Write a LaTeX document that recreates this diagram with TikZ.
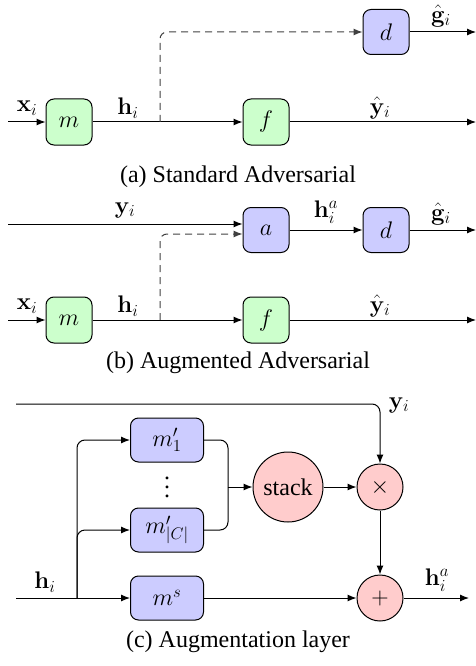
\RequirePackage{fix-cm}
\documentclass[tikz,border=0pt]{standalone}
\usepackage[no-math]{fontspec}
\setmainfont{Liberation Serif}
\newfontfamily\tms{Liberation Serif}
\usetikzlibrary{arrows.meta}
\begin{document}
\begin{tikzpicture}[x=1pt,y=-1pt,
  every node/.style={font=\tms\fontsize{24}{28}\selectfont},
  line width=1pt,
  arr/.style={-{Latex[length=9pt,width=7pt]}},
  dsh/.style={dash pattern=on 7pt off 5pt, draw=black!75},
  gbox/.style={draw, fill=green!20, rounded corners=8pt, minimum width=46pt, minimum height=46pt, inner sep=0pt},
  bbox/.style={draw, fill=blue!20, rounded corners=8pt, minimum width=46pt, minimum height=45pt, inner sep=0pt},
  wbox/.style={draw, fill=blue!20, rounded corners=8pt, minimum width=73pt, minimum height=44pt, inner sep=0pt},
  circ/.style={draw, circle, fill=red!20, inner sep=0pt},
  lab/.style={inner sep=0pt}
]
\useasboundingbox (0,0) rectangle (476,666);

% ---------- (a)
\node[gbox] (ma) at (69,122) {$m$};
\node[gbox] (fa) at (266,122) {$f$};
\node[bbox] (da) at (386,32) {$d$};
\coordinate (xina) at (8,122);
\coordinate (bra) at (160,122);
\coordinate (outa) at (476,122);
\coordinate (gouta) at (476,32);
\draw[arr] (xina) -- (ma);
\draw[arr] (ma) -- (fa);
\draw[arr] (fa) -- (outa);
\draw[arr] (da) -- (gouta);
\draw[arr, dsh, rounded corners=7pt] (bra) |- (da.west);
\node[lab] (xla) at (27,108) {$\mathbf{x}_i$};
\node[lab] (hla) at (128,108) {$\mathbf{h}_i$};
\node[lab] (yla) at (380,108) {$\hat{\mathbf{y}}_i$};
\node[lab] (gla) at (441,16) {$\hat{\mathbf{g}}_i$};
\node (capa) at (238,177) {(a) Standard Adversarial};

% ---------- (b)
\node[bbox] (ab) at (266,230) {$a$};
\node[bbox] (db) at (386,230) {$d$};
\node[gbox] (mb) at (69,320) {$m$};
\node[gbox] (fb) at (266,320) {$f$};
\coordinate (yinb) at (8,224);
\coordinate (xinb) at (8,320);
\coordinate (brb) at (160,320);
\coordinate (outb) at (476,320);
\coordinate (goutb) at (476,230);
\draw[arr] (yinb) -- (yinb -| ab.west);
\draw[arr, dsh, rounded corners=7pt] (brb) |- ([yshift=-4pt]ab.west);
\draw[arr] (ab) -- (db);
\draw[arr] (db) -- (goutb);
\draw[arr] (xinb) -- (mb);
\draw[arr] (mb) -- (fb);
\draw[arr] (fb) -- (outb);
\node[lab] (ylb) at (125,210) {$\mathbf{y}_i$};
\node[lab] (halb) at (326,212) {$\mathbf{h}_i^a$};
\node[lab] (glb) at (441,214) {$\hat{\mathbf{g}}_i$};
\node[lab] (xlb) at (27,306) {$\mathbf{x}_i$};
\node[lab] (hlb) at (128,306) {$\mathbf{h}_i$};
\node[lab] (yhlb) at (380,306) {$\hat{\mathbf{y}}_i$};
\node (capb) at (238,363) {(b) Augmented Adversarial};

% ---------- (c)
\node[wbox] (m1) at (167,440) {$m'_1$};
\node[wbox] (mc) at (167,530) {$m'_{|C|}$};
\node[wbox] (ms) at (167,598) {$m^s$};
\node[lab] (dots) at (167,487) {\vbox{\baselineskip=9pt\lineskiplimit=0pt\hbox{.}\hbox{.}\hbox{.}}};
\node[circ, minimum size=70pt] (st) at (288,487) {stack};
\node[circ, minimum size=46pt] (tm) at (380,487) {$\times$};
\node[circ, minimum size=46pt] (pl) at (380,598) {$+$};
\coordinate (ytop) at (16,404);
\coordinate (hin) at (16,598);
\coordinate (brc) at (77,598);
\coordinate (jn) at (228,487);
\coordinate (outc) at (469,598);
\draw[arr, rounded corners=8pt] (ytop) -| (tm.north);
\draw[arr] (hin) -- (ms);
\draw[arr, rounded corners=8pt] (brc) |- (m1.west);
\draw[arr, rounded corners=8pt] (brc) |- (mc.west);
\draw[rounded corners=8pt] (m1.east) -| (jn);
\draw[rounded corners=8pt] (mc.east) -| (jn);
\draw[arr] (jn) -- (st);
\draw[arr] (st) -- (tm);
\draw[arr] (tm) -- (pl);
\draw[arr] (ms) -- (pl);
\draw[arr] (pl) -- (outc);
\node[lab] (ylc) at (399,405) {$\mathbf{y}_i$};
\node[lab] (hlc) at (45,582) {$\mathbf{h}_i$};
\node[lab] (halc) at (437,580) {$\mathbf{h}_i^a$};
\node (capc) at (238,642) {(c) Augmentation layer};
\end{tikzpicture}
\end{document}
